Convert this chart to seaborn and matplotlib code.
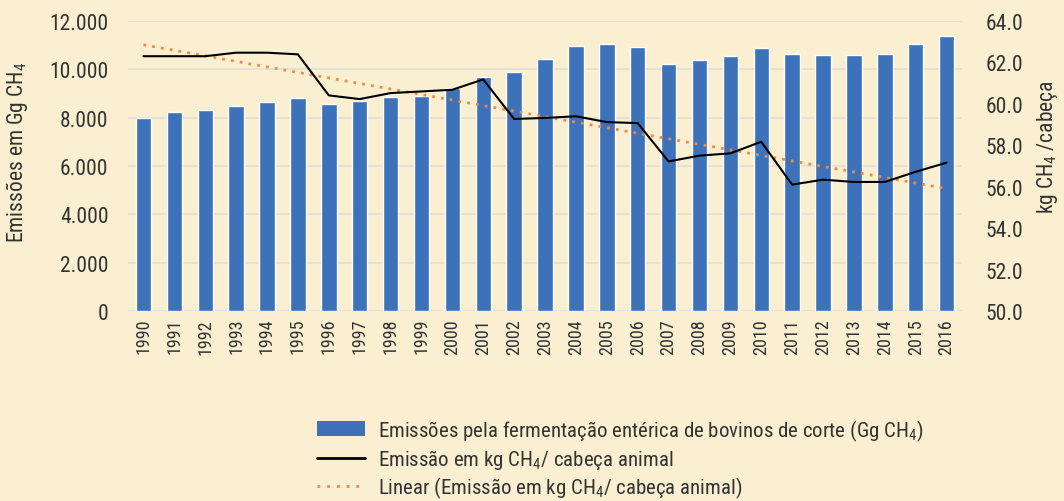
import numpy as np
import pandas as pd
import matplotlib
matplotlib.use("Agg")
import matplotlib.pyplot as plt
from matplotlib import font_manager
from matplotlib.ticker import FuncFormatter
from matplotlib.patches import Patch
from matplotlib.lines import Line2D
import seaborn as sns

# --- data -------------------------------------------------------------
years = [str(y) for y in range(1990, 2017)]
emissoes_gg = [7985, 8234, 8316, 8482, 8647, 8813, 8564, 8689, 8854, 8896,
               9213, 9681, 9888, 10426, 10964, 11047, 10923, 10219, 10385,
               10550, 10881, 10633, 10592, 10592, 10633, 11047, 11378]
kg_por_cabeca = [62.3, 62.3, 62.3, 62.47, 62.47, 62.39, 60.41, 60.23, 60.52,
                 60.60, 60.68, 61.18, 59.27, 59.32, 59.40, 59.12, 59.07,
                 57.22, 57.50, 57.61, 58.17, 56.10, 56.34, 56.23, 56.23,
                 56.72, 57.16]
left_ticks = [0, 2000, 4000, 6000, 8000, 10000, 12000]
right_ticks = [50, 52, 54, 56, 58, 60, 62, 64]

# --- style ------------------------------------------------------------
BG = "#FAEFD1"
BAR = "#3D72BA"
TXT = "#333333"
GRID = "#E2DED6"
TREND = "#F08A3E"

sns.set_theme(style="white")
available = {f.name for f in font_manager.fontManager.ttflist}
condensed = ["Roboto Condensed", "Noto Sans Condensed", "Liberation Sans Narrow",
             "DejaVu Sans Condensed", "Open Sans Condensed"]
family = next((f for f in condensed if f in available), None)
if family is None:
    family = "Roboto"
    stretch_ok = False
else:
    stretch_ok = True
plt.rcParams["font.family"] = [family, "DejaVu Sans"]
plt.rcParams["mathtext.fontset"] = "custom"
plt.rcParams["mathtext.rm"] = family
plt.rcParams["mathtext.default"] = "rm"

scale = 1.0 if stretch_ok else 0.86
fs_tick = 15.5 * scale
fs_x = 13 * scale
fs_leg = 15 * scale

df = pd.DataFrame({"ano": years, "gg": emissoes_gg, "kg": kg_por_cabeca})
df["pos"] = np.arange(len(df))

fig = plt.figure(figsize=(10.64, 5.02), dpi=100, facecolor=BG)
ax = fig.add_axes([128 / 1064, 1 - 312 / 502, (962 - 128) / 1064, 290 / 502])
ax.set_facecolor(BG)

sns.barplot(data=df, x="ano", y="gg", color=BAR, width=0.5, saturation=1,
            ax=ax, zorder=2)
ax.set_ylim(0, 12000)
ax.set_xlim(-0.5, len(years) - 0.5)
ax.set_yticks(left_ticks)
ax.yaxis.set_major_formatter(FuncFormatter(lambda v, p: f"{int(v):,}".replace(",", ".")))
ax.grid(axis="y", color=GRID, linewidth=1.2, zorder=0)
ax.grid(axis="x", visible=False)
for s in ax.spines.values():
    s.set_visible(False)
ax.tick_params(axis="y", length=0, pad=14, labelsize=fs_tick, labelcolor=TXT)
ax.tick_params(axis="x", length=0, pad=5, labelsize=fs_x, labelcolor=TXT,
               labelrotation=90)
ax.set_xlabel("")
ax.set_ylabel("Emissões em Gg CH$_4$", fontsize=fs_tick, color=TXT)
ax.yaxis.set_label_coords(-0.117, 0.55)

ax2 = ax.twinx()
ax2.set_facecolor("none")
sns.lineplot(data=df, x="pos", y="kg", color="black", linewidth=1.5, ax=ax2,
             zorder=4)
coef = np.polyfit(df["pos"], df["kg"], 1)
trend = np.polyval(coef, df["pos"])
ax2.plot(df["pos"], trend, color=TREND, linestyle=(0, (1, 2.2)),
         linewidth=2, zorder=3)
ax2.set_ylim(50, 64)
ax2.set_yticks(right_ticks)
ax2.yaxis.set_major_formatter(FuncFormatter(lambda v, p: f"{v:.1f}"))
for s in ax2.spines.values():
    s.set_visible(False)
ax2.tick_params(axis="y", length=0, pad=17, labelsize=fs_tick, labelcolor=TXT)
ax2.set_ylabel("kg CH$_4$ /cabeça", fontsize=fs_tick, color=TXT)
ax2.yaxis.set_label_coords(1.088, 0.57)
ax2.set_xlim(-0.5, len(years) - 0.5)
ax2.set_xlabel("")

handles = [
    Patch(facecolor=BAR, edgecolor="none"),
    Line2D([], [], color="black", linewidth=2),
    Line2D([], [], color=TREND, linestyle=(0, (1, 2.5)), linewidth=2),
]
labels = [
    "Emissões pela fermentação entérica de bovinos de corte (Gg CH$_4$)",
    "Emissão em kg CH$_4$/ cabeça animal",
    "Linear (Emissão em kg CH$_4$/ cabeça animal)",
]
fig.legend(handles, labels, loc="upper left", bbox_to_anchor=(309 / 1064, 1 - 410 / 502),
           frameon=False, fontsize=fs_leg, labelcolor=TXT, handlelength=2.3,
           handletextpad=0.6, labelspacing=0.2, borderaxespad=0)

fig.savefig("out.png", dpi=100, facecolor=BG)
